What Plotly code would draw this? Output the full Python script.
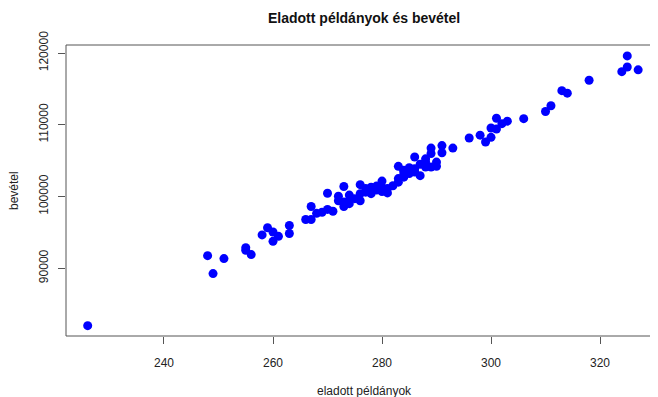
import plotly.graph_objects as go

# eladott példányok (copies sold) and bevétel (revenue)
peldany = [226, 248, 249, 251, 255, 255, 256, 258, 259, 260,
           260, 261, 263, 263, 266, 267, 267, 268, 270, 271,
           270, 273, 272, 274, 273, 274, 273, 276, 276, 276,
           277, 278, 279, 278, 280, 281, 281, 280, 283, 283,
           284, 285, 286, 286, 283, 284, 284, 286, 287, 288,
           288, 288, 289, 290, 289, 289, 291, 291, 293, 296,
           298, 299, 300, 300, 301, 301, 302, 303, 306, 310,
           311, 313, 314, 318, 324, 325, 325, 327, 277, 279,
           280, 282, 274, 272, 285, 287, 290, 284, 269, 275]
bevetel = [82000, 91750, 89250, 91350, 92850, 92500, 91900, 94650, 95650, 95050,
           93750, 94450, 95950, 94850, 96800, 96800, 98600, 97650, 98200, 97950,
           100450, 101400, 100050, 100200, 99250, 99000, 98600, 101650, 99400, 100400,
           100600, 101300, 101450, 100400, 101300, 101100, 100500, 102150, 104200, 102500,
           103650, 103200, 103400, 105500, 102000, 102700, 103400, 103870, 102900, 105250,
           104800, 104100, 104100, 104800, 106750, 106000, 107100, 106100, 106750, 108150,
           108550, 107600, 108250, 109550, 109400, 110900, 110150, 110500, 110850, 111850,
           112650, 114750, 114400, 116200, 117400, 119600, 118050, 117650, 101100, 100900,
           100700, 101500, 99500, 99400, 104000, 104500, 104200, 103000, 97800, 99700]

x_ticks = [240, 260, 280, 300, 320]
y_ticks = [90000, 100000, 110000, 120000]

title_text = "Eladott példányok és bevétel"
x_title = "eladott példányok"
y_title = "bevétel"

font_family = "Liberation Sans, Arial, sans-serif"

fig = go.Figure()
fig.add_trace(go.Scatter(
    x=peldany, y=bevetel, mode="markers",
    marker=dict(color="#0000FF", size=9, line=dict(width=0)),
    showlegend=False, hoverinfo="x+y",
))

# the page body adds an 8px offset, so the figure is sized to fill the rest of the window
fig.update_layout(
    width=650, height=389,
    margin=dict(l=58, r=0, t=37, b=61),
    paper_bgcolor="white", plot_bgcolor="white",
    font=dict(family=font_family, size=12, color="#222"),
    xaxis=dict(range=[222.02, 330.64], tickvals=x_ticks, ticktext=[str(v) for v in x_ticks],
               ticks="outside", ticklen=7, tickcolor="#555", tickwidth=1,
               showgrid=False, zeroline=False, showline=False, automargin=False,
               tickfont=dict(size=12, color="#222"), ticklabelstandoff=9),
    yaxis=dict(range=[80556, 121116], tickvals=y_ticks, ticktext=[str(v) for v in y_ticks],
               ticks="outside", ticklen=7, tickcolor="#555", tickwidth=1,
               showgrid=False, zeroline=False, showline=False, tickangle=-90, automargin=False,
               tickfont=dict(size=12, color="#222"), ticklabelstandoff=5),
    shapes=[dict(type="rect", xref="paper", yref="paper", x0=0, x1=1.01, y0=0, y1=1,
                 line=dict(color="#555", width=1), fillcolor="rgba(0,0,0,0)", layer="above")],
    annotations=[
        dict(text="<b>" + title_text + "</b>", xref="paper", yref="paper",
             x=0.5035, y=1 + 27 / 291, xanchor="center", yanchor="middle",
             showarrow=False, font=dict(size=14, color="#111")),
        dict(text=x_title, xref="paper", yref="paper", x=0.5035,
             y=-(391 - 336) / 291, xanchor="center", yanchor="middle",
             showarrow=False, font=dict(size=12, color="#222")),
        dict(text=y_title, xref="paper", yref="paper", x=-(66 - 13.5) / 592,
             y=0.5, xanchor="center", yanchor="middle", textangle=-90,
             showarrow=False, font=dict(size=12, color="#222")),
    ],
)

fig.write_html("out.html")
